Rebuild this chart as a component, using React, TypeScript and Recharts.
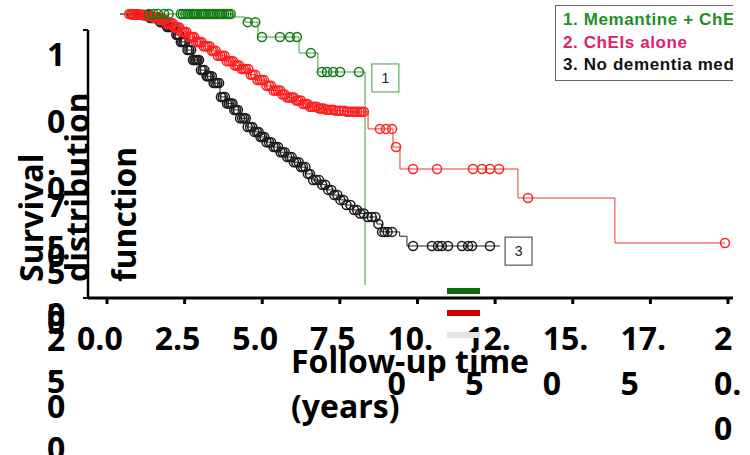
import React from 'react';
import { ComposedChart, Line, Scatter, XAxis, YAxis, Legend, ReferenceDot } from 'recharts';

// ---------- axis content ----------
const xTicks = [0, 2.5, 5, 7.5, 10, 12.5, 15, 17.5, 20];
const xTickLabels = ['0.0', '2.5', '5.0', '7.5', '10.0', '12.5', '15.0', '17.5', '20.0'];
const yTicks = [0, 0.25, 0.5, 0.75, 1];
const yTickLabels = ['0.00', '0.25', '0.50', '0.75', '1'];
const xTitleLines = ['Follow-up time', '(years)'];
const yTitleLines = ['Survival', 'distribution', 'function'];
const legendBarColors = ['#0b6b0b', '#cc0000', '#e3e3e3'];

// ---------- series ----------
const seriesNames = ['1. Memantine + ChEIs', '2. ChEIs alone', '3. No dementia medication'];
const seriesTextColors = ['#1f8f24', '#e0206c', '#111111'];
const seriesLineColors = ['#3f9f3f', '#e8392f', '#222222'];
const seriesMarkerColors = ['#137a13', '#ff1f1f', '#1a1a1a'];

// 1. Memantine + ChEIs
const memTimes = [0, 3.72, 4.11, 4.54, 5.89, 6.51, 8.06];
const memSurv = [1, 0.989, 0.97, 0.915, 0.856, 0.786, 0];
const memCensor = [0.95, 1.1, 1.25, 1.45, 1.6, 2.0, 2.07, 2.15, 2.22, 2.3, 2.38, 2.45, 2.52, 2.6, 2.68, 2.75, 2.82, 2.9,
  2.98, 3.05, 3.12, 3.2, 3.28, 3.35, 3.42, 3.5, 3.57, 3.64,
  4.2, 4.45, 4.67, 5.26, 5.59, 5.82, 6.28, 6.64, 6.81, 7.01, 7.24, 7.86];

// 2. ChEIs alone
const cheiTimes = [0, 0.45, 0.8, 1.05, 1.3, 1.52, 1.78, 1.97, 2.22, 2.48, 2.71, 2.98, 3.2, 3.47, 3.73, 3.98, 4.27, 4.46, 4.77,
  4.98, 5.28, 5.49, 5.76, 6.02, 6.21, 6.52, 6.78, 7.05, 7.46, 8.16, 8.98, 9.21, 13.09, 16.28, 19.9];
const cheiSurv = [1, 0.997, 0.993, 0.987, 0.979, 0.966, 0.95, 0.934, 0.915, 0.897, 0.881, 0.864, 0.846, 0.826, 0.81, 0.797,
  0.776, 0.756, 0.735, 0.718, 0.703, 0.692, 0.681, 0.668, 0.658, 0.651, 0.647, 0.643, 0.639, 0.576, 0.509, 0.428, 0.321, 0.155, 0.155];
const cheiCensor = [0.3, 0.42, 0.55, 0.66, 0.78, 0.88, 0.98, 1.08, 1.18, 1.28, 1.38, 1.48, 1.58, 1.68, 1.8, 1.9, 2.0, 2.12, 2.25,
  2.38, 2.5, 2.62, 2.75, 2.88, 3.02, 3.15, 3.3, 3.44, 3.58, 3.72, 3.85, 4.0, 4.14, 4.3, 4.45, 4.6, 4.74, 4.9, 5.05, 5.2, 5.35,
  5.5, 5.65, 5.8, 5.95, 6.1, 6.25, 6.4, 6.55, 6.7, 6.86, 7.02, 7.2, 7.38, 7.55, 7.72, 7.88, 8.02,
  0.36, 0.48, 0.6, 0.72, 0.83, 0.93, 1.03, 1.13, 1.23, 1.33, 1.43, 1.53, 1.63, 1.74, 1.85, 1.95, 2.06, 2.18, 2.31, 2.44,
  2.56, 2.68, 2.81, 2.95, 3.08, 3.22, 3.37, 3.51, 3.65, 3.78, 3.92, 4.07, 4.22, 4.37, 4.52, 4.67, 4.82, 4.97, 5.12, 5.27,
  5.42, 5.57, 5.72, 5.87, 6.02, 6.17, 6.32, 6.47, 6.62, 6.78, 6.94, 7.1, 7.28, 7.46, 7.63, 7.8, 7.95,
  8.55, 8.75, 8.95, 9.08, 9.64, 10.43, 11.61, 11.91, 12.17, 12.47, 13.42, 19.9];

// 3. No dementia medication
const noneTimes = [0, 0.4, 0.66, 0.99, 1.32, 1.55, 1.81, 2.0, 2.2, 2.4, 2.63, 2.85, 3.06, 3.29, 3.5, 3.72, 3.95, 4.18, 4.4,
  4.61, 4.82, 5.03, 5.25, 5.49, 5.7, 5.92, 6.13, 6.35, 6.58, 6.81, 7.02, 7.24, 7.45, 7.66, 7.9, 8.13, 8.45, 8.6, 9.2, 9.44, 12.5];
const noneSurv = [1, 0.998, 0.996, 0.985, 0.97, 0.952, 0.923, 0.897, 0.867, 0.83, 0.793, 0.77, 0.745, 0.694, 0.67, 0.646,
  0.615, 0.583, 0.565, 0.546, 0.527, 0.509, 0.49, 0.472, 0.453, 0.435, 0.41, 0.387, 0.37, 0.351, 0.332, 0.314, 0.295, 0.277,
  0.264, 0.251, 0.225, 0.196, 0.18, 0.144, 0.144];
const noneCensor = [0.4, 0.55, 0.7, 0.82, 0.95, 1.05, 1.15, 1.27, 1.38, 1.5, 1.6, 1.72, 1.85, 1.95, 2.05, 2.15, 2.28, 2.4, 2.5,
  2.6, 2.72, 2.85, 2.95, 3.08, 3.2, 3.32, 3.45, 3.58, 3.7, 3.82, 3.95, 4.08, 4.2, 4.35, 4.5, 4.62, 4.75, 4.9, 5.05, 5.2, 5.35,
  5.5, 5.65, 5.8, 5.95, 6.1, 6.25, 6.45, 6.65, 6.85, 7.05, 7.25, 7.45, 7.7, 7.9, 8.15, 8.4, 8.62, 8.8, 8.95,
  0.48, 0.62, 0.76, 0.88, 1.0, 1.1, 1.21, 1.32, 1.44, 1.55, 1.66, 1.78, 1.9, 2.0, 2.1, 2.22, 2.34, 2.45, 2.55, 2.66, 2.78,
  2.9, 3.02, 3.14, 3.26, 3.38, 3.52, 3.64, 3.76, 3.88, 4.02, 4.14, 4.28, 4.42, 4.56, 4.68, 4.82, 4.97, 5.12, 5.28, 5.42,
  5.58, 5.72, 5.88, 6.02, 6.18, 6.35, 6.55, 6.75, 6.95, 7.15, 7.35, 7.58, 7.8, 8.02, 8.28, 8.5, 8.7,
  9.64, 10.26, 10.46, 10.59, 10.79, 11.25, 11.45, 11.58, 12.17];

// curve tags (boxed numbers next to the curves)
const tagLabels = ['1', '3'];
const tagTimes = [8.73, 13.11];
const tagSurv = [0.764, 0.125];
const tagColors = ['#3f9f3f', '#333333'];

// ---------- helpers ----------
const FONT = '"Open Sans", "DejaVu Sans", sans-serif';

function toSteps(times: number[], surv: number[]) {
  return times.map((t, i) => ({ t, s: surv[i] }));
}
function survivalAt(times: number[], surv: number[], t: number) {
  let s = surv[0];
  for (let i = 0; i < times.length; i++) {
    if (times[i] <= t) s = surv[i];
    else break;
  }
  return s;
}
function toCensor(censor: number[], times: number[], surv: number[]) {
  return censor.map((t) => ({ t, s: survivalAt(times, surv, t) }));
}
function charW(c: string, fs: number) {
  return (c === '.' ? 0.27 : 0.572) * fs;
}
function wrapChars(text: string, maxW: number, fs: number) {
  const lines: string[] = [];
  let cur = '';
  let curW = 0;
  for (const c of text) {
    const w = charW(c, fs);
    if (cur && curW + w > maxW) {
      lines.push(cur);
      cur = c;
      curW = w;
    } else {
      cur += c;
      curW += w;
    }
  }
  if (cur) lines.push(cur);
  return lines;
}

const PAGE_W = 750;
const PAGE_H = 455;

const XTick = (props: any) => {
  const { x, y, payload } = props;
  const i = xTicks.indexOf(payload.value);
  const label = i >= 0 ? xTickLabels[i] : String(payload.value);
  const maxW = Math.min(46, 2 * (PAGE_W - x) - 14);
  const lines = wrapChars(label, maxW, 32);
  const sx = x - 30 + (46 - maxW);
  return (
    <text x={sx} y={y + 44} fontFamily={FONT} fontWeight={700} fontSize={32} fill="#000">
      {lines.map((l, k) => (
        <tspan key={k} x={sx} dy={k === 0 ? 0 : 45}>{l}</tspan>
      ))}
    </text>
  );
};

const YTick = (props: any) => {
  const { y, payload } = props;
  const i = yTicks.indexOf(payload.value);
  const label = i >= 0 ? yTickLabels[i] : String(payload.value);
  const lines = wrapChars(label, 15, 32);
  const sx = 47;
  return (
    <text x={sx} y={y + 36} fontFamily={FONT} fontWeight={700} fontSize={32} fill="#000">
      {lines.map((l, k) => (
        <tspan key={k} x={sx} dy={k === 0 ? 0 : 42}>{l}</tspan>
      ))}
    </text>
  );
};

const XTitle = () => (
  <text fontFamily={FONT} fontWeight={700} fontSize={32} fill="#000">
    {xTitleLines.map((l, k) => (
      <tspan key={k} x={291} y={373 + 45 * k}>{l}</tspan>
    ))}
  </text>
);

const yTitleX = [43, 89, 136];
const YTitle = () => (
  <g>
    {yTitleLines.map((l, k) => (
      <text
        key={k}
        x={yTitleX[k]}
        y={282}
        transform={`rotate(-90, ${yTitleX[k]}, 282)`}
        textAnchor="start"
        fontFamily={FONT}
        fontWeight={700}
        fontSize={32}
        fill="#000"
      >
        {l}
      </text>
    ))}
  </g>
);

const BarLegend = () => (
  <div>
    {legendBarColors.map((c, i) => (
      <div key={i} style={{ width: 33, height: 6, background: c, marginBottom: 16 }} />
    ))}
  </div>
);

const KMLegend = () => (
  <div
    style={{
      border: '1px solid #666',
      background: '#fff',
      padding: '3px 40px 3px 7px',
      fontFamily: '"Liberation Sans", Arial, sans-serif',
      fontWeight: 700,
      fontSize: 17,
      letterSpacing: 0.6,
      lineHeight: '22.5px',
      whiteSpace: 'nowrap',
    }}
  >
    {seriesNames.map((n, i) => (
      <div key={i} style={{ color: seriesTextColors[i] }}>{n}</div>
    ))}
  </div>
);

const makeMarker = (color: string) => (p: any) => (
  <circle cx={p.cx} cy={p.cy} r={4.5} fill="none" stroke={color} strokeWidth={1.5} />
);

const makeTag = (label: string, color: string) => (p: any) => (
  <g>
    <rect x={p.cx - 13.5} y={p.cy - 14} width={27} height={28} fill="#fff" stroke={color} strokeWidth={1} />
    <text x={p.cx} y={p.cy + 5} textAnchor="middle" fontFamily='"Liberation Sans", Arial, sans-serif' fontSize={14} fill="#222">
      {label}
    </text>
  </g>
);

const memData = toSteps(memTimes, memSurv);
const cheiData = toSteps(cheiTimes, cheiSurv);
const noneData = toSteps(noneTimes, noneSurv);
const memCens = toCensor(memCensor, memTimes, memSurv);
const cheiCens = toCensor(cheiCensor, cheiTimes, cheiSurv);
const noneCens = toCensor(noneCensor, noneTimes, noneSurv);
const axisFrame = xTicks.map((t, i) => ({ t, s: yTicks[Math.min(i, yTicks.length - 1)] }));

function KMChart() {
  return (
    <ComposedChart width={733} height={PAGE_H} margin={{ top: 14, right: 5, bottom: 170, left: 120 }}>
      <XAxis type="number" dataKey="t" domain={[0, 20]} hide height={0} />
      <YAxis type="number" dataKey="s" domain={[0, 1]} hide width={0} />
      <Line data={noneData} dataKey="s" name={seriesNames[2]} type="stepAfter" stroke={seriesLineColors[2]} strokeWidth={1} dot={false} isAnimationActive={false} />
      <Scatter data={noneCens} dataKey="s" legendType="none" shape={makeMarker(seriesMarkerColors[2])} isAnimationActive={false} />
      <Line data={cheiData} dataKey="s" name={seriesNames[1]} type="stepAfter" stroke={seriesLineColors[1]} strokeWidth={1} dot={false} isAnimationActive={false} />
      <Scatter data={cheiCens} dataKey="s" legendType="none" shape={makeMarker(seriesMarkerColors[1])} isAnimationActive={false} />
      <Line data={memData} dataKey="s" name={seriesNames[0]} type="stepAfter" stroke={seriesLineColors[0]} strokeWidth={1} dot={false} isAnimationActive={false} />
      <Scatter data={memCens} dataKey="s" legendType="none" shape={makeMarker(seriesMarkerColors[0])} isAnimationActive={false} />
      {tagLabels.map((l, i) => (
        <ReferenceDot key={l} x={tagTimes[i]} y={tagSurv[i]} r={0} shape={makeTag(l, tagColors[i])} />
      ))}
      <Legend layout="vertical" align="center" verticalAlign="middle" wrapperStyle={{ left: 555, top: 5, width: 260 }} content={KMLegend} />
    </ComposedChart>
  );
}

function AxesChart() {
  return (
    <ComposedChart data={axisFrame} width={PAGE_W} height={PAGE_H} margin={{ top: 30, right: 17, bottom: 0, left: 0 }}>
      <XAxis
        type="number"
        dataKey="t"
        domain={[0, 20]}
        allowDataOverflow
        ticks={xTicks}
        interval={0}
        padding={{ left: 19, right: 5 }}
        height={157}
        axisLine={{ stroke: '#000', strokeWidth: 3 }}
        tickLine={{ stroke: '#000', strokeWidth: 3 }}
        tickSize={6}
        tick={XTick}
        label={XTitle}
      />
      <YAxis
        type="number"
        dataKey="s"
        domain={[0, 1]}
        allowDataOverflow
        ticks={yTicks}
        interval={0}
        width={88}
        axisLine={{ stroke: '#000', strokeWidth: 2.5 }}
        tickLine={{ stroke: '#000', strokeWidth: 2 }}
        tickSize={5}
        tick={YTick}
        label={YTitle}
      />
      <Legend layout="vertical" align="center" verticalAlign="middle" wrapperStyle={{ left: 447, top: 288, width: 34 }} content={BarLegend} />
    </ComposedChart>
  );
}

export default function App() {
  return (
    <div style={{ position: 'fixed', left: 0, top: 0, width: PAGE_W, height: PAGE_H, overflow: 'hidden', background: '#fff' }}>
      <div style={{ position: 'absolute', left: 0, top: 0, width: 733, height: PAGE_H, overflow: 'hidden' }}>
        <KMChart />
      </div>
      <div style={{ position: 'absolute', left: 0, top: 0 }}>
        <AxesChart />
      </div>
    </div>
  );
}
